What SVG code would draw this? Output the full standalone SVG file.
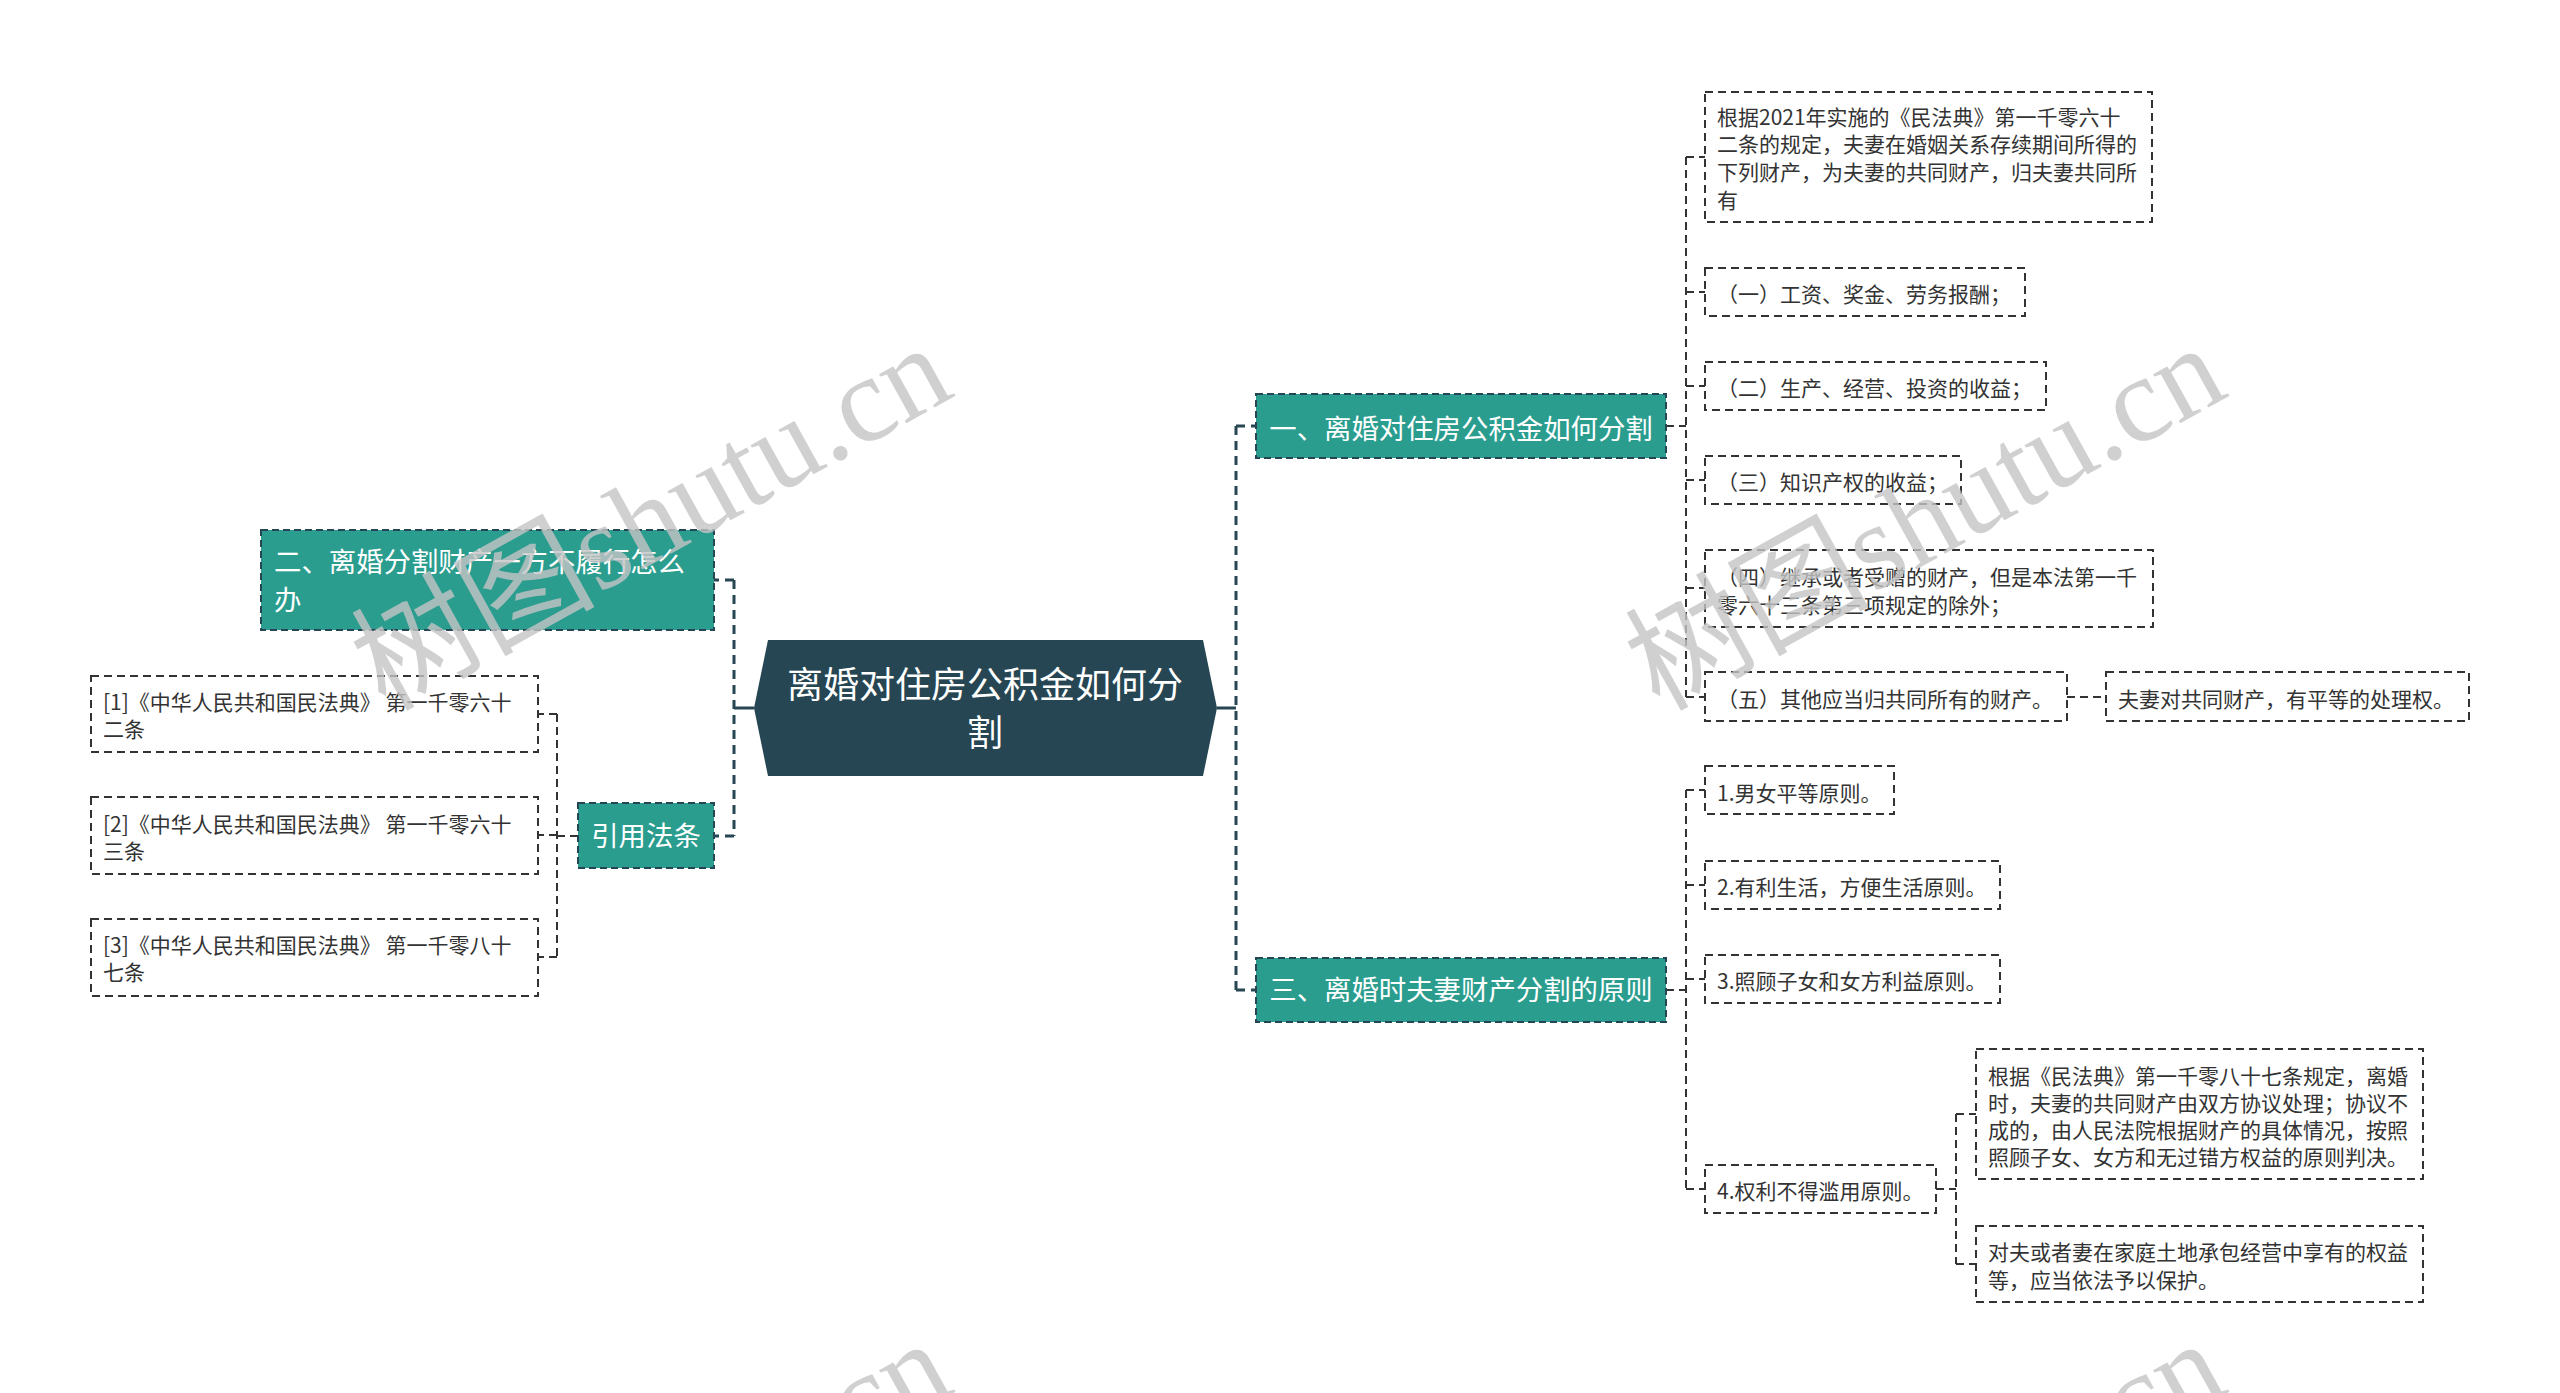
<svg xmlns="http://www.w3.org/2000/svg" width="2560" height="1393" viewBox="0 0 2560 1393">
<style>
.bg{fill:#ffffff}
.hex{fill:#264653}
.teal{fill:#2a9d8f;stroke:#264653;stroke-width:2;stroke-dasharray:7 4}
.leaf{fill:#ffffff;stroke:#333333;stroke-width:2;stroke-dasharray:8 5}
.tc{font-family:"Noto Sans CJK SC","Noto Sans",sans-serif;font-size:36px;fill:#ffffff;text-anchor:middle}
.tt{font-family:"Noto Sans CJK SC","Noto Sans",sans-serif;font-size:27.4px;fill:#ffffff}
.tl{font-family:"Noto Sans CJK SC","Noto Sans",sans-serif;font-size:21px;fill:#333333}
.main{fill:none;stroke:#264653;stroke-width:3;stroke-dasharray:9 6}
.solid{fill:none;stroke:#264653;stroke-width:3}
.sub{fill:none;stroke:#333333;stroke-width:2;stroke-dasharray:8 5}
.wm{font-size:122px;fill:#c4c4c4;fill-opacity:0.8}
.wm1{font-family:"Noto Sans CJK SC",sans-serif}
.wm2{font-family:"Liberation Serif",serif}
</style>
<rect class="bg" x="0" y="0" width="2560" height="1393"/>

<g id="connectors">
  <path class="solid" d="M754 708 H734 M1217 708 H1236"/>
  <path class="main" d="M734 580 V836 M734 580 H714 M734 836 H714"/>
  <path class="main" d="M1236 426 V990 M1236 426 H1256 M1236 990 H1256"/>
  <path class="sub" d="M578 836 H557 M557 714 V957 M557 714 H538 M557 835 H538 M557 957 H538"/>
  <path class="sub" d="M1666 426 H1686 M1686 157 V697 M1686 157 H1705 M1686 292 H1705 M1686 386 H1705 M1686 480 H1705 M1686 588 H1705 M1686 697 H1705"/>
  <path class="sub" d="M2067 697 H2106"/>
  <path class="sub" d="M1666 990 H1686 M1686 790 V1189 M1686 790 H1705 M1686 885 H1705 M1686 979 H1705 M1686 1189 H1705"/>
  <path class="sub" d="M1936 1189 H1956 M1956 1114 V1264 M1956 1114 H1976 M1956 1264 H1976"/>
</g>

<g id="root">
  <polygon class="hex" points="754,708 768,640 1203,640 1217,708 1203,776 768,776"/>
  <text class="tc" x="985" y="698">离婚对住房公积金如何分</text>
  <text class="tc" x="985" y="746">割</text>
</g>

<g id="n2">
  <rect class="teal" x="261" y="530" width="453" height="100"/>
  <text class="tt" x="274" y="572">二、离婚分割财产一方不履行怎么</text>
  <text class="tt" x="274" y="610">办</text>
</g>
<g id="cite">
  <rect class="teal" x="578" y="803" width="136" height="65"/>
  <text class="tt" x="646" y="846" text-anchor="middle">引用法条</text>
</g>
<g id="c1">
  <rect class="leaf" x="91" y="676" width="447" height="76"/>
  <text class="tl" x="103" y="709.5">[1]《中华人民共和国民法典》 第一千零六十</text>
  <text class="tl" x="103" y="736.5">二条</text>
</g>
<g id="c2">
  <rect class="leaf" x="91" y="797" width="447" height="77"/>
  <text class="tl" x="103" y="831.5">[2]《中华人民共和国民法典》 第一千零六十</text>
  <text class="tl" x="103" y="858.5">三条</text>
</g>
<g id="c3">
  <rect class="leaf" x="91" y="919" width="447" height="77"/>
  <text class="tl" x="103" y="953">[3]《中华人民共和国民法典》 第一千零八十</text>
  <text class="tl" x="103" y="980">七条</text>
</g>

<g id="n1">
  <rect class="teal" x="1256" y="394" width="410" height="64"/>
  <text class="tt" x="1461" y="439" text-anchor="middle">一、离婚对住房公积金如何分割</text>
</g>
<g id="n3">
  <rect class="teal" x="1256" y="958" width="410" height="64"/>
  <text class="tt" x="1461" y="1000" text-anchor="middle">三、离婚时夫妻财产分割的原则</text>
</g>

<g id="leafA">
  <rect class="leaf" x="1705" y="92" width="447" height="130"/>
  <text class="tl" x="1717" y="124.5">根据2021年实施的《民法典》第一千零六十</text>
  <text class="tl" x="1717" y="152.2">二条的规定，夫妻在婚姻关系存续期间所得的</text>
  <text class="tl" x="1717" y="179.9">下列财产，为夫妻的共同财产，归夫妻共同所</text>
  <text class="tl" x="1717" y="207.6">有</text>
</g>
<g id="leafB">
  <rect class="leaf" x="1705" y="268" width="320" height="48"/>
  <text class="tl" x="1717" y="302">（一）工资、奖金、劳务报酬；</text>
</g>
<g id="leafC">
  <rect class="leaf" x="1705" y="362" width="341" height="48"/>
  <text class="tl" x="1717" y="396">（二）生产、经营、投资的收益；</text>
</g>
<g id="leafD">
  <rect class="leaf" x="1705" y="456" width="256" height="48"/>
  <text class="tl" x="1717" y="490">（三）知识产权的收益；</text>
</g>
<g id="leafE">
  <rect class="leaf" x="1705" y="550" width="448" height="77"/>
  <text class="tl" x="1717" y="585">（四）继承或者受赠的财产，但是本法第一千</text>
  <text class="tl" x="1717" y="612.7">零六十三条第三项规定的除外；</text>
</g>
<g id="leafF">
  <rect class="leaf" x="1705" y="672" width="362" height="49"/>
  <text class="tl" x="1717" y="706.5">（五）其他应当归共同所有的财产。</text>
</g>
<g id="leafG">
  <rect class="leaf" x="2106" y="672" width="363" height="49"/>
  <text class="tl" x="2118" y="706.5">夫妻对共同财产，有平等的处理权。</text>
</g>

<g id="leaf1">
  <rect class="leaf" x="1705" y="766" width="189" height="48"/>
  <text class="tl" x="1717" y="800.5">1.男女平等原则。</text>
</g>
<g id="leaf2">
  <rect class="leaf" x="1705" y="861" width="295" height="48"/>
  <text class="tl" x="1717" y="895">2.有利生活，方便生活原则。</text>
</g>
<g id="leaf3">
  <rect class="leaf" x="1705" y="955" width="295" height="48"/>
  <text class="tl" x="1717" y="989">3.照顾子女和女方利益原则。</text>
</g>
<g id="leaf4">
  <rect class="leaf" x="1705" y="1165" width="231" height="48"/>
  <text class="tl" x="1717" y="1199">4.权利不得滥用原则。</text>
</g>
<g id="leafH">
  <rect class="leaf" x="1976" y="1049" width="447" height="130"/>
  <text class="tl" x="1988" y="1083.5">根据《民法典》第一千零八十七条规定，离婚</text>
  <text class="tl" x="1988" y="1110.8">时，夫妻的共同财产由双方协议处理；协议不</text>
  <text class="tl" x="1988" y="1138.1">成的，由人民法院根据财产的具体情况，按照</text>
  <text class="tl" x="1988" y="1165.4">照顾子女、女方和无过错方权益的原则判决。</text>
</g>
<g id="leafI">
  <rect class="leaf" x="1976" y="1226" width="447" height="76"/>
  <text class="tl" x="1988" y="1260">对夫或者妻在家庭土地承包经营中享有的权益</text>
  <text class="tl" x="1988" y="1287.5">等，应当依法予以保护。</text>
</g>

<g id="watermark">
  <text class="wm" transform="translate(385,712) rotate(-29)"><tspan class="wm1">树图</tspan><tspan class="wm2">shutu.cn</tspan></text>
  <text class="wm" transform="translate(1659,712) rotate(-29)"><tspan class="wm1">树图</tspan><tspan class="wm2">shutu.cn</tspan></text>
  <text class="wm" transform="translate(385,1708) rotate(-29)"><tspan class="wm1">树图</tspan><tspan class="wm2">shutu.cn</tspan></text>
  <text class="wm" transform="translate(1659,1708) rotate(-29)"><tspan class="wm1">树图</tspan><tspan class="wm2">shutu.cn</tspan></text>
</g>
</svg>
